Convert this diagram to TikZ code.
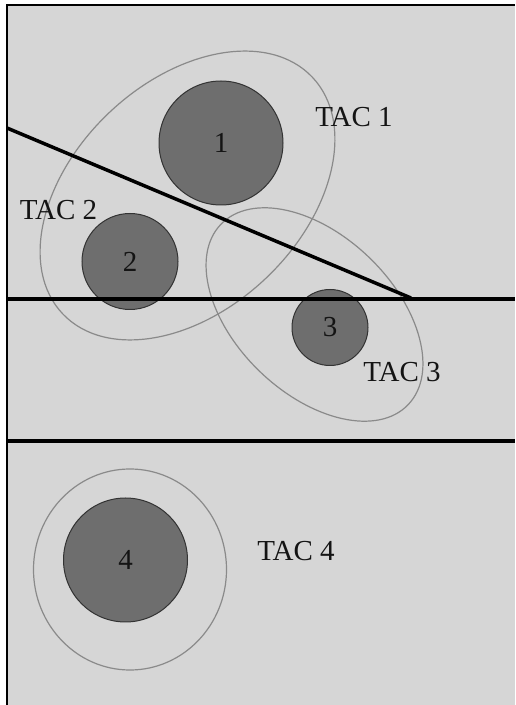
\documentclass[tikz,border=0pt]{standalone}
\usepackage{fontspec}
\setmainfont{Liberation Serif}
\definecolor{bggray}{HTML}{D6D6D6}
\definecolor{discgray}{HTML}{6E6E6E}
\definecolor{ringgray}{HTML}{8A8A8A}
\definecolor{inkdark}{HTML}{141414}
\begin{document}
\begin{tikzpicture}[x=1pt,y=1pt,
  disc/.style={circle,draw=black!80,line width=1pt,fill=discgray,inner sep=0pt,text=inkdark,font=\fontsize{29}{32}\selectfont},
  ring/.style={draw=ringgray,line width=1.2pt},
  divider/.style={draw=black,line width=3.5pt},
  taclabel/.style={text=inkdark,font=\fontsize{29}{32}\selectfont,inner sep=0pt}]
\useasboundingbox (0,0) rectangle (515,705);
\fill[white] (0,0) rectangle (515,705);
\fill[bggray] (7,0) rectangle (515,700);
\draw[black,line width=1.5pt] (7,0) -- (7,700) -- (515,700);
% zones (ellipses)
\draw[ring] (187.5,509.5) ellipse [x radius=172, y radius=114, rotate=43.5];
\draw[ring] (314.5,390.5) ellipse [x radius=130, y radius=79, rotate=-44];
\draw[ring] (130,135.5) ellipse [x radius=96.5, y radius=100.5];
% cells
\node[disc,minimum size=124pt] (c1) at (221,562) {1};
\node[disc,minimum size=96pt] (c2) at (130,443.5) {2};
\node[disc,minimum size=76pt] (c3) at (330,377.5) {3};
\node[disc,minimum size=124pt] (c4) at (125.5,145) {4};
% lines
\coordinate (dA) at (7,577);
\coordinate (dB) at (411,407);
\coordinate (h1L) at (7,406);
\coordinate (h1R) at (515,406);
\coordinate (h2L) at (7,264);
\coordinate (h2R) at (515,264);
\draw[divider] (dA) -- (dB);
\draw[divider] (h1L) -- (h1R);
\draw[divider] (h2L) -- (h2R);
% labels
\node[taclabel] (t1) at (354,588) {TAC 1};
\node[taclabel] (t2) at (58.5,495) {TAC 2};
\node[taclabel] (t3) at (402,333) {TAC 3};
\node[taclabel] (t4) at (296,154) {TAC 4};
\end{tikzpicture}
\end{document}
